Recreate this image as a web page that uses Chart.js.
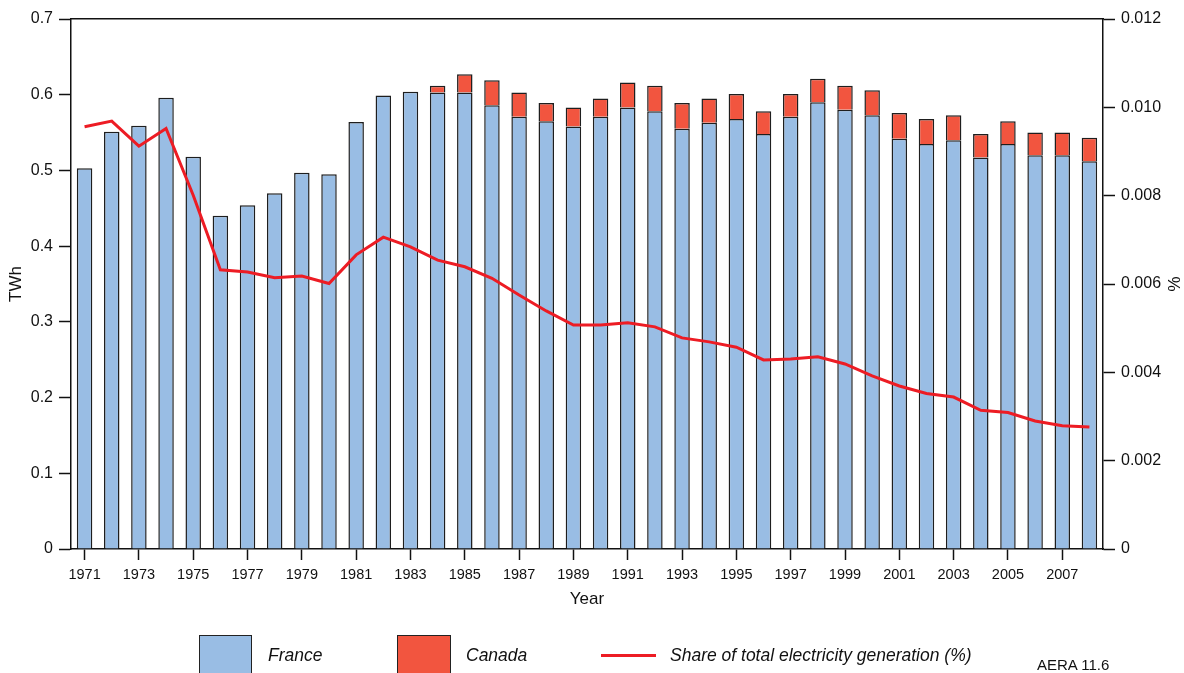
<!DOCTYPE html>
<html>
<head>
<meta charset="utf-8">
<script src="https://cdn.jsdelivr.net/npm/chart.js@4.4.1/dist/chart.umd.min.js"></script>
<style>
  html, body { margin: 0; padding: 0; background: #fff; }
  #wrap { position: relative; width: 1184px; height: 673px; overflow: hidden; }
  canvas { position: absolute; left: 0; top: 0; }
  .box { position: absolute; box-sizing: border-box; border: 1.5px solid #222; }
  .lg { position: absolute; font-family: 'Liberation Sans', Arial, sans-serif; font-style: italic; font-size: 17.5px; color: #111; line-height: 20px; }
  .ln { position: absolute; height: 3px; background: #ED1C24; }
  .note { position: absolute; font-family: 'Liberation Sans', Arial, sans-serif; font-size: 15px; color: #111; }
</style>
</head>
<body>
<div id="wrap">
  <canvas id="c" width="1184" height="673"></canvas>
  <div class="box" style="left:199px;top:635px;width:53px;height:40px;background:#99BDE4;"></div>
  <div class="lg" style="left:268px;top:645px;">France</div>
  <div class="box" style="left:397px;top:635px;width:54px;height:40px;background:#F2553F;"></div>
  <div class="lg" style="left:466px;top:645px;">Canada</div>
  <div class="ln" style="left:601px;top:654px;width:55px;"></div>
  <div class="lg" style="left:670px;top:645px;">Share of total electricity generation (%)</div>
  <div class="note" style="left:1037px;top:656px;">AERA 11.6</div>
</div>
<script>
const years = ['1971','1972','1973','1974','1975','1976','1977','1978','1979','1980',
  '1981','1982','1983','1984','1985','1986','1987','1988','1989','1990',
  '1991','1992','1993','1994','1995','1996','1997','1998','1999','2000',
  '2001','2002','2003','2004','2005','2006','2007','2008'];

const france = [0.503,0.551,0.559,0.596,0.518,0.440,0.454,0.470,0.497,0.495,
  0.564,0.599,0.604,0.603,0.603,0.586,0.571,0.565,0.558,0.571,
  0.583,0.578,0.555,0.563,0.568,0.548,0.571,0.590,0.580,0.573,
  0.542,0.535,0.540,0.517,0.535,0.520,0.520,0.512];

const canada = [null,null,null,null,null,null,null,null,null,null,
  null,null,null,0.009,0.024,0.033,0.032,0.024,0.025,0.024,
  0.033,0.034,0.034,0.032,0.033,0.030,0.030,0.031,0.032,0.033,
  0.034,0.033,0.033,0.031,0.030,0.030,0.030,0.031];

const share = [0.00956,0.00969,0.00912,0.00952,0.00801,0.00632,0.00627,0.00614,0.00618,0.00601,
  0.00666,0.00706,0.00684,0.00654,0.00639,0.00613,0.00575,0.00539,0.00507,0.00507,
  0.00512,0.00503,0.00478,0.00469,0.00457,0.00428,0.00430,0.00435,0.00419,0.00392,
  0.00369,0.00352,0.00344,0.00314,0.00309,0.00290,0.00279,0.00276];

const REG = "'Liberation Sans', Arial, sans-serif";

new Chart(document.getElementById('c'), {
  type: 'bar',
  data: {
    labels: years,
    datasets: [
      { type: 'line', label: 'Share of total electricity generation (%)', data: share, yAxisID: 'y1',
        borderColor: '#ED1C24', borderWidth: 3, pointRadius: 0, tension: 0, order: 0, fill: false },
      { label: 'France', data: france, yAxisID: 'y', stack: 's', backgroundColor: '#99BDE4',
        borderColor: '#1e1e1e', borderWidth: 1.5, barPercentage: 0.57, categoryPercentage: 1, order: 1 },
      { label: 'Canada', data: canada, yAxisID: 'y', stack: 's', backgroundColor: '#F2553F',
        borderColor: '#1e1e1e', borderWidth: 1.5, barPercentage: 0.57, categoryPercentage: 1, order: 2 }
    ]
  },
  options: {
    responsive: false,
    animation: false,
    events: [],
    layout: { padding: { top: 19, bottom: 63, left: 0, right: 0 } },
    plugins: { legend: { display: false }, tooltip: { enabled: false } },
    scales: {
      x: {
        stacked: true,
        position: 'bottom',
        grid: { display: true, drawOnChartArea: false, drawTicks: true, offset: false, tickLength: 11,
          tickColor: (ctx) => (ctx.index % 2 === 0 ? '#111' : 'rgba(0,0,0,0)'), tickWidth: 1.5 },
        border: { display: true, color: '#111', width: 1.5 },
        ticks: { autoSkip: false, maxRotation: 0, minRotation: 0, padding: 6, color: '#111',
          font: { family: REG, size: 14.5 },
          callback: function (v, i) { return i % 2 === 0 ? this.getLabelForValue(v) : ''; } },
        title: { display: true, text: 'Year', color: '#111', font: { family: REG, size: 17 }, padding: { top: 0, bottom: 0 } },
        afterFit: (s) => { s.height = 61; }
      },
      xTop: {
        position: 'top',
        grid: { display: true, drawOnChartArea: false, drawTicks: false },
        border: { display: true, color: '#111', width: 1.5 },
        ticks: { display: false },
        afterFit: (s) => { s.height = 0; }
      },
      y: {
        stacked: true,
        position: 'left',
        min: 0, max: 0.7,
        grid: { display: true, drawOnChartArea: false, drawTicks: true, tickLength: 12, tickColor: '#111', tickWidth: 1.5 },
        border: { display: true, color: '#111', width: 1.5 },
        ticks: { stepSize: 0.1, padding: 6, color: '#111', font: { family: REG, size: 16 },
          callback: (v) => (v === 0 ? '0' : Number(v).toFixed(1)) },
        title: { display: true, text: 'TWh', color: '#111', font: { family: REG, size: 17 }, padding: { top: 6, bottom: 0 } },
        afterFit: (s) => { s.width = 71; }
      },
      y1: {
        position: 'right',
        min: 0, max: 0.012,
        grid: { display: true, drawOnChartArea: false, drawTicks: true, tickLength: 12, tickColor: '#111', tickWidth: 1.5 },
        border: { display: true, color: '#111', width: 1.5 },
        ticks: { stepSize: 0.002, padding: 6, color: '#111', font: { family: REG, size: 16 },
          callback: (v) => (v === 0 ? '0' : Number(v).toFixed(3)) },
        title: { display: true, text: '%', color: '#111', font: { family: REG, size: 17 }, padding: { top: 1, bottom: 0 } },
        afterFit: (s) => { s.width = 81; }
      }
    }
  }
});
</script>
</body>
</html>
